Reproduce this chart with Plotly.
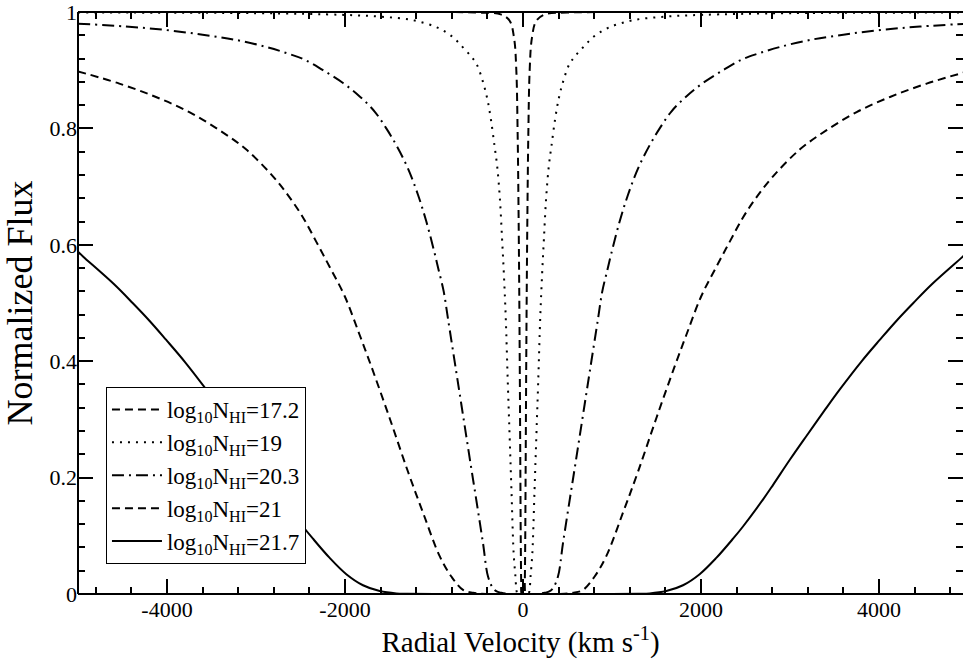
import plotly.graph_objects as go

# Half-profiles (velocity >= 0, km/s); mirrored to negative velocities
v_172 = [0, 15, 20, 25, 30, 35, 42, 50, 60, 75, 100, 150, 250, 500, 1000, 5000]
f_172 = [0.0, 0.0, 0.02, 0.09, 0.22, 0.36, 0.52, 0.66, 0.79, 0.90, 0.955, 0.985, 0.996, 0.999, 1.0, 1.0]

v_19 = [0, 60, 75, 85, 105, 130, 150, 170, 195, 215, 235, 260, 290, 320, 360, 400, 450, 520, 580,
        680, 790, 960, 1240, 1600, 2000, 3000, 5000]
f_19 = [0.0, 0.0, 0.01, 0.03, 0.07, 0.18, 0.27, 0.36, 0.48, 0.55, 0.61, 0.68, 0.735, 0.77, 0.815, 0.85,
        0.88, 0.91, 0.923, 0.94, 0.957, 0.973, 0.986, 0.992, 0.995, 0.998, 0.999]

v_203 = [0, 150, 243, 290, 337, 393, 449, 524, 580, 637, 693, 749, 843, 891, 950, 992, 1086, 1180, 1292,
         1423, 1536, 1667, 1835, 2022, 2247, 2453, 2650, 2888, 3225, 3600, 4011, 4461, 5000]
f_203 = [0.0, 0.0, 0.002, 0.004, 0.010, 0.030, 0.087, 0.161, 0.215, 0.271, 0.326, 0.381, 0.473, 0.52,
         0.558, 0.585, 0.640, 0.686, 0.731, 0.771, 0.800, 0.829, 0.855, 0.878, 0.900, 0.918, 0.929,
         0.940, 0.952, 0.961, 0.969, 0.975, 0.980]

v_21 = [0, 400, 562, 674, 805, 936, 1124, 1292, 1498, 1704, 1835, 2004, 2172, 2322, 2472, 2625, 2812,
        3112, 3412, 3749, 4124, 4536, 5000]
f_21 = [0.0, 0.0, 0.002, 0.007, 0.030, 0.065, 0.140, 0.210, 0.302, 0.391, 0.445, 0.512, 0.562, 0.605,
        0.647, 0.682, 0.718, 0.764, 0.797, 0.828, 0.854, 0.877, 0.898]

v_217 = [0, 1000, 1300, 1423, 1610, 1798, 1985, 2172, 2360, 2472, 2700, 2812, 3000, 3187, 3400, 3562,
         3800, 4011, 4200, 4386, 4600, 4944, 5000]
f_217 = [0.0, 0.0, 0.0005, 0.001, 0.005, 0.015, 0.034, 0.062, 0.095, 0.116, 0.163, 0.188, 0.231, 0.272,
         0.318, 0.352, 0.399, 0.437, 0.470, 0.500, 0.533, 0.580, 0.588]

labels = ["log<sub>10</sub>N<sub>HI</sub>=17.2", "log<sub>10</sub>N<sub>HI</sub>=19",
          "log<sub>10</sub>N<sub>HI</sub>=20.3", "log<sub>10</sub>N<sub>HI</sub>=21",
          "log<sub>10</sub>N<sub>HI</sub>=21.7"]
dashes = ["8px,5px", "2px,6px", "12px,5px,2px,5px", "8px,5px", "solid"]

x_tickvals = [-4000, -2000, 0, 2000, 4000]
x_ticktext = ["-4000", "-2000", "0", "2000", "4000"]
y_tickvals = [0, 0.2, 0.4, 0.6, 0.8, 1]
y_ticktext = ["0", "0.2", "0.4", "0.6", "0.8", "1"]

series = [(v_172, f_172), (v_19, f_19), (v_203, f_203), (v_21, f_21), (v_217, f_217)]

FONT = "Liberation Serif"

fig = go.Figure()
for (v, f), lab, d in zip(series, labels, dashes):
    x = [-a for a in v[::-1]] + v[1:]
    y = f[::-1] + f[1:]
    fig.add_trace(go.Scatter(x=x, y=y, mode="lines", name=lab,
                             line=dict(color="black", width=2, dash=d, shape="spline", smoothing=1.0)))

axis_common = dict(showline=False, mirror="allticks",
                   ticks="inside", ticklen=15, tickwidth=1.5, tickcolor="black",
                   showgrid=False, zeroline=False, ticklabeloverflow="allow",
                   tickfont=dict(family=FONT, size=22, color="black"))

fig.update_layout(
    width=963, height=667,
    margin=dict(l=78, r=0, t=12, b=73),
    plot_bgcolor="white", paper_bgcolor="white",
    font=dict(family=FONT, color="black"),
    xaxis=dict(range=[-5000, 4944], tickmode="array", tickvals=x_tickvals, ticktext=x_ticktext,
               minor=dict(tick0=0, dtick=400, ticks="inside", ticklen=7, tickwidth=1.5, tickcolor="black"),
               title=dict(text="Radial Velocity (km s<sup>-1</sup>)", font=dict(family=FONT, size=29), standoff=10),
               **axis_common),
    yaxis=dict(range=[0, 1], tickmode="array", tickvals=y_tickvals, ticktext=y_ticktext,
               minor=dict(tick0=0, dtick=0.04, ticks="inside", ticklen=7, tickwidth=1.5, tickcolor="black"),
               title=dict(text="Normalized Flux", font=dict(family=FONT, size=36), standoff=5),
               **axis_common),
    legend=dict(x=0.0316, y=0.3557, xanchor="left", yanchor="top",
                bordercolor="black", borderwidth=1, bgcolor="white", itemwidth=50,
                font=dict(family=FONT, size=23, color="black"), tracegroupgap=0),
    showlegend=True,
    shapes=[
        dict(type="line", xref="paper", yref="paper", x0=0, x1=0, y0=0, y1=1, line=dict(color="black", width=2)),
        dict(type="line", xref="paper", yref="paper", x0=0, x1=1, y0=0, y1=0, line=dict(color="black", width=2)),
        dict(type="line", xref="paper", yref="paper", x0=0, x1=1, y0=1, y1=1, line=dict(color="black", width=2)),
    ],
)

fig.write_html("out.html")
